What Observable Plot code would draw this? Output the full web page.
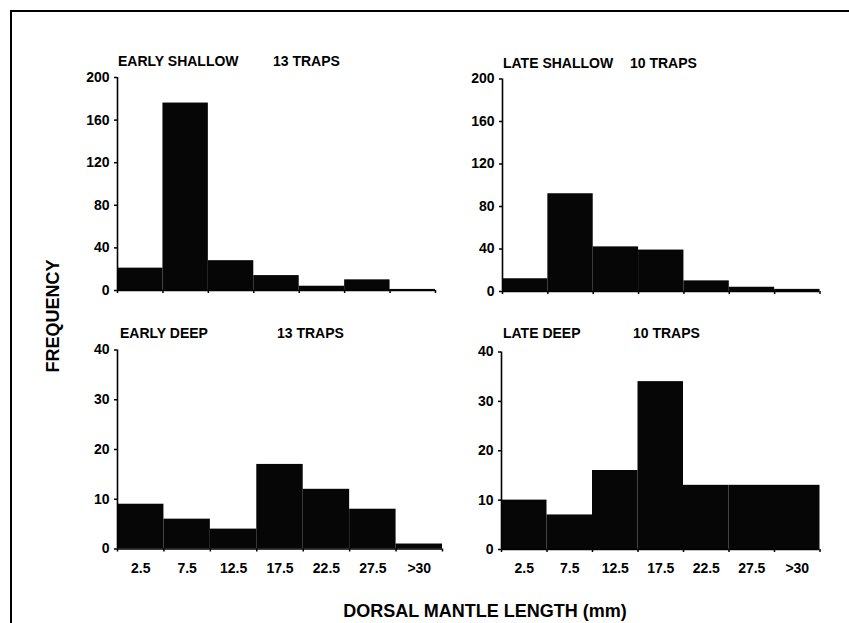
<!DOCTYPE html>
<html><head><meta charset="utf-8">
<script src="https://cdn.jsdelivr.net/npm/d3@7"></script>
<script src="https://cdn.jsdelivr.net/npm/@observablehq/plot@0.6"></script>
<style>
html,body{margin:0;padding:0;background:#fff;overflow:hidden;width:849px;height:623px;}
#wrap{position:relative;width:849px;height:623px;overflow:hidden;font-family:"Liberation Sans",Arial,sans-serif;font-weight:bold;color:#000;}
#wrap svg{position:absolute;left:0;top:0;}
.lbl{position:absolute;white-space:nowrap;font-size:14px;line-height:14px;}
.frame{position:absolute;left:10px;top:10px;width:837px;height:611px;border-top:2px solid #000;border-left:2px solid #000;box-sizing:content-box;}
</style></head><body><div id="wrap"><div class="frame"></div></div>
<script>
const binLabels = ["2.5","7.5","12.5","17.5","22.5","27.5",">30"];
const earlyShallow = [21,176,28,14,4,10,1];
const lateShallow = [12,92,42,39,10,4,2];
const earlyDeep = [9,6,4,17,12,8,1];
const lateDeep = [10,7,16,34,13,13,13];
const shallowTicks = [0,40,80,120,160,200];
const deepTicks = [0,10,20,30,40];
const titles = ["EARLY SHALLOW","LATE SHALLOW","EARLY DEEP","LATE DEEP"];
const trapLabels = ["13 TRAPS","10 TRAPS","13 TRAPS","10 TRAPS"];
const yLabel = "FREQUENCY";
const xLabel = "DORSAL MANTLE LENGTH (mm)";

const W = 849, H = 623;
const panels = [
  {values: earlyShallow, ticks: shallowTicks, box:[117,435,77,290], labels:false, t:[118,273,54]},
  {values: lateShallow, ticks: shallowTicks, box:[502,819.5,78.5,291], labels:false, t:[503,630,56]},
  {values: earlyDeep, ticks: deepTicks, box:[117,442,349.5,548.5], labels:true, t:[120,277,326]},
  {values: lateDeep, ticks: deepTicks, box:[501,819.5,351.5,549], labels:true, t:[503,633,326]}
];
const wrap = document.getElementById("wrap");
panels.forEach((p, k) => {
  const data = p.values.map((v, i) => ({i, v}));
  const [L, R, T, B] = p.box;
  const marks = [
    Plot.rectY(data, {x1: "i", x2: d => d.i + 1, y: "v", fill: "#060606"}),
    Plot.ruleY([0], {stroke: "#000", strokeWidth: 1.6}),
    Plot.ruleX([0], {stroke: "#000", strokeWidth: 1.6}),
    Plot.axisY({ticks: p.ticks, tickSize: 3, tickPadding: 5, tickFormat: d => String(d), label: null, strokeWidth: 1.5}),
    Plot.axisX({ticks: d3.range(8), tickSize: 3, tickFormat: () => "", label: null, strokeWidth: 1.5})
  ];
  if (p.labels) {
    marks.push(Plot.axisX({ticks: d3.range(7).map(i => i + 0.5), tickSize: 0, tickPadding: 14,
      tickFormat: d => binLabels[Math.floor(d)], label: null}));
  }
  const svg = Plot.plot({
    width: W, height: H,
    marginLeft: L, marginRight: W - R, marginTop: T, marginBottom: H - B,
    x: {domain: [0, 7], axis: null},
    y: {domain: [0, p.ticks[p.ticks.length - 1]], axis: null},
    style: {fontFamily: '"Liberation Sans", Arial, sans-serif', fontWeight: "bold", fontSize: "14px", color: "#000", background: "transparent", overflow: "visible"},
    marks
  });
  wrap.appendChild(svg);
  const a = document.createElement("div");
  a.className = "lbl"; a.textContent = titles[k];
  a.style.left = p.t[0] + "px"; a.style.top = p.t[2] + "px";
  wrap.appendChild(a);
  const b = document.createElement("div");
  b.className = "lbl"; b.textContent = trapLabels[k];
  b.style.left = p.t[1] + "px"; b.style.top = p.t[2] + "px";
  wrap.appendChild(b);
});
const fy = document.createElement("div");
fy.className = "lbl"; fy.textContent = yLabel;
Object.assign(fy.style, {left: "53px", top: "316px", fontSize: "18px", lineHeight: "18px", transform: "translate(-50%,-50%) rotate(-90deg)"});
wrap.appendChild(fy);
const fx = document.createElement("div");
fx.className = "lbl"; fx.textContent = xLabel;
Object.assign(fx.style, {left: "485px", top: "611px", fontSize: "18px", lineHeight: "18px", transform: "translate(-50%,-50%)"});
wrap.appendChild(fx);
</script>
</body></html>
